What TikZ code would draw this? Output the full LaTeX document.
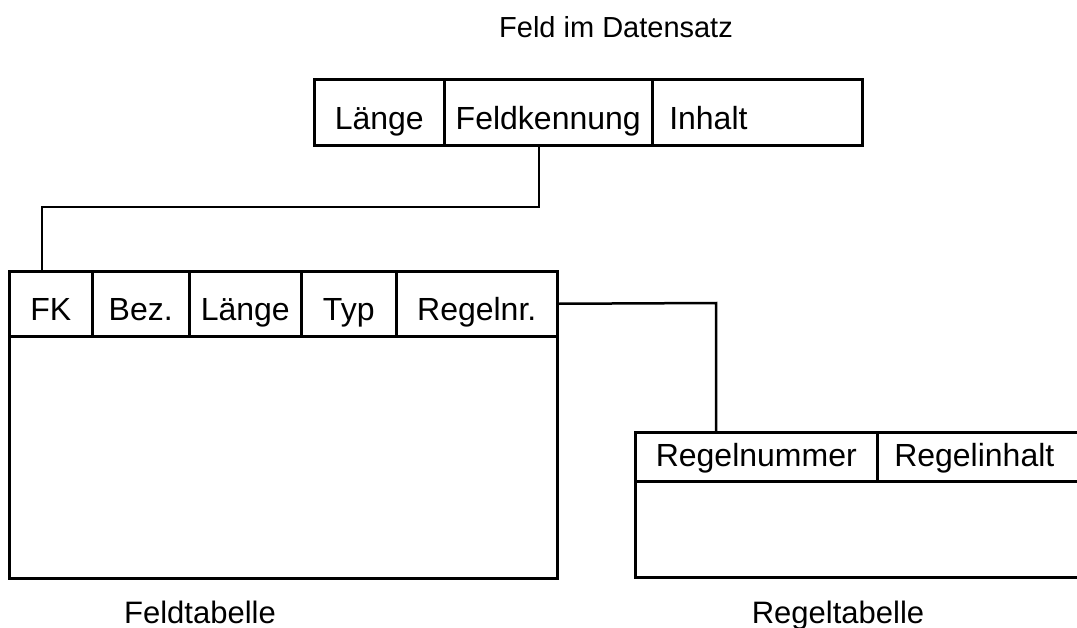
\documentclass[tikz,border=0pt]{standalone}
\usepackage{fontspec}
\setmainfont{Liberation Sans}
\usepackage{tikz}

\begin{document}
\begin{tikzpicture}[
  cell/.style={draw,line width=2.5bp,anchor=north west,inner sep=0pt,minimum height=66bp,text height=34bp,text depth=0bp,font=\fontsize{32bp}{38bp}\selectfont},
  rcell/.style={cell,minimum height=49bp,text height=20bp},
  body/.style={draw,line width=2.5bp,anchor=north west,inner sep=0pt},
  caption/.style={anchor=base,inner sep=0pt,font=\fontsize{31bp}{37bp}\selectfont},
  link/.style={line width=2.5bp}
]
\useasboundingbox (0bp,0bp) rectangle (1077bp,-628bp);

\node (titel) at (616bp,-37bp)[caption,font=\fontsize{29bp}{35bp}\selectfont] {Feld im Datensatz};
\node (laengeA) at (313bp,-78bp)[cell,minimum width=130bp] {Länge};
\node (feldkennung) at (443bp,-78bp)[cell,minimum width=208bp] {Feldkennung};
\node (inhalt) at (651bp,-78bp)[cell,inner xsep=17bp,text width=176bp,align=left] {Inhalt};

\node (feldtab) at (8bp,-335bp)[body,minimum width=548bp,minimum height=242bp] {};
\node (fk) at (8bp,-270bp)[cell,minimum width=83bp,minimum height=65bp] {FK};
\node (bez) at (91bp,-270bp)[cell,minimum width=97bp,minimum height=65bp] {Bez.};
\node (laengeB) at (188bp,-270bp)[cell,minimum width=112bp,minimum height=65bp] {Länge};
\node (typ) at (300bp,-270bp)[cell,minimum width=95bp,minimum height=65bp] {Typ};
\node (regelnr) at (395bp,-270bp)[cell,minimum width=161bp,minimum height=65bp] {Regelnr.};
\node (capfeld) at (200bp,-623bp)[caption] {Feldtabelle};

\node (regeltab) at (634bp,-480bp)[body,minimum width=500bp,minimum height=96bp] {};
\node (regelnummer) at (634bp,-431bp)[rcell,minimum width=242bp] {Regelnummer};
\node (regelinhalt) at (876bp,-431bp)[rcell,inner xsep=17bp,text width=216bp,align=left] {Regelinhalt};
\node (capregel) at (838bp,-623bp)[caption] {Regeltabelle};

\coordinate (k1) at (539bp,-207bp);
\coordinate (k2) at (42bp,-207bp);
\coordinate (k3) at (716bp,-303bp);
\draw [link] (k1 |- feldkennung.south) -- (k1) -- (k2) -- (k2 |- fk.north);
\draw [link] (regelnr.east) -- (k3) -- (k3 |- regelnummer.north);
\end{tikzpicture}
\end{document}
